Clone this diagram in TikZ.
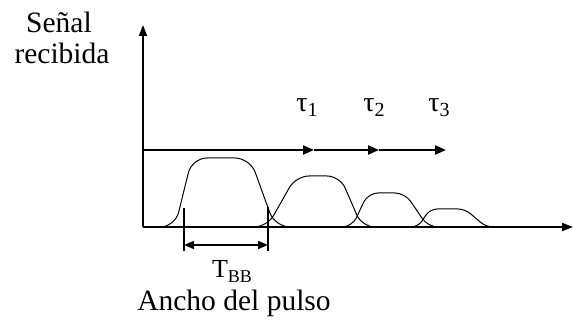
\documentclass[tikz,border=0pt]{standalone}
\usepackage{fontspec}
\setmainfont{Liberation Serif}
\usetikzlibrary{arrows.meta, positioning, calc}

\begin{document}
\begin{tikzpicture}[
  x=1pt, y=-1pt,
  eje/.style={line width=1.8pt, -{Triangle[length=11pt, width=8pt]}},
  arr/.style={line width=2.2pt, -{Triangle[length=11pt, width=9pt]}},
  pulso/.style={line width=1pt},
  cota/.style={line width=1.4pt},
  cotaarr/.style={line width=1.6pt, {Triangle[length=10pt, width=8pt]}-{Triangle[length=10pt, width=8pt]}},
  etiq/.style={font=\fontsize{29.5}{33}\selectfont, align=center, inner sep=0pt},
  tau/.style={font=\fontsize{28}{30}\selectfont, anchor=base, inner sep=0pt},
]
\useasboundingbox (0,0) rectangle (573,320);

% ejes
\coordinate (orig) at (143,227);
\coordinate (ytop) at (143,25);
\coordinate (xend) at (573,227);
\draw[eje] (orig) -- (ytop);
\draw[eje] (orig) -- (xend);

% eje de retardos
\coordinate (h0) at (143,150);
\coordinate (t1) at (314,150);
\coordinate (t2) at (379,150);
\coordinate (t3) at (446,150);
\draw[arr] (h0) -- (t1);
\draw[arr] (t1) -- (t2);
\draw[arr] (t2) -- (t3);

\node[tau] (tau1) at (307,112) {τ\raisebox{-5pt}{\fontsize{20}{20}\selectfont 1}};
\node[tau] (tau2) at (374,112) {τ\raisebox{-5pt}{\fontsize{20}{20}\selectfont 2}};
\node[tau] (tau3) at (439,112) {τ\raisebox{-5pt}{\fontsize{20}{20}\selectfont 3}};

% pulsos recibidos
\foreach \fa/\sa/\sb/\fb/\yt/\r in {175/192/250/275/158/15,
                                    267/296/340/362/176/13,
                                    352/368/405/428/193/10,
                                    418/430/465/486/209/7}
  \draw[pulso, rounded corners=\r pt]
    (\fa-30,227) -- (\fa,227) -- (\sa,\yt) -- (\sb,\yt) -- (\fb,227) -- (\fb+28,227);

% ancho del pulso
\coordinate (c1a) at (184,208);
\coordinate (c1b) at (184,251);
\coordinate (c2a) at (268,207);
\coordinate (c2b) at (268,251);
\coordinate (c1m) at (184,245);
\coordinate (c2m) at (268,245);
\draw[cota] (c1a) -- (c1b);
\draw[cota] (c2a) -- (c2b);
\draw[cotaarr] (c1m) -- (c2m);

\node[etiq, anchor=base] (tbb) at (232,278)
  {\fontsize{26}{28}\selectfont T\raisebox{-5pt}{\fontsize{18}{18}\selectfont BB}};
\node[etiq, anchor=base] (ancho) at (234,311) {Ancho del pulso};

\node[etiq, anchor=base] (senal) at (59,33) {Señal};
\node[etiq, anchor=base] (recib) at (62,64) {recibida};
\end{tikzpicture}
\end{document}
